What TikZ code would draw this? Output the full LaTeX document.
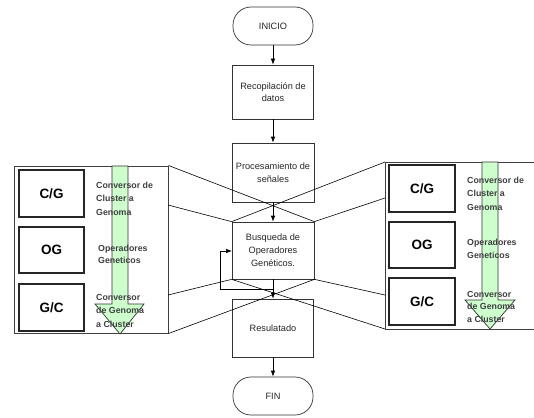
\documentclass[tikz,border=0pt]{standalone}
\usepackage{fontspec}
\setmainfont{Liberation Sans}
\usetikzlibrary{arrows.meta}
\definecolor{arrowgreen}{HTML}{CCFFCC}
\tikzset{
  flow/.style={draw=black!80, line width=0.7pt, fill=white, align=center, inner sep=1pt,
    font=\fontsize{9.2}{12.5}\selectfont, text=black!85},
  term/.style={flow, rounded corners=18pt, minimum width=80pt, minimum height=38pt},
  proc/.style={flow, minimum width=81pt},
  flowarrow/.style={draw=black, line width=0.7pt, -{Latex[length=6pt,width=4.5pt]}},
  panel/.style={draw=black!75, line width=1pt},
  code/.style={draw=black!85, line width=1.1pt, minimum width=65pt, inner sep=0pt,
    font=\fontsize{13.5}{14}\selectfont\bfseries},
  side/.style={anchor=base west, align=left, inner sep=0pt, text=black!75,
    font=\fontsize{8.8}{13.5}\selectfont\bfseries},
  zoomline/.style={draw=black, line width=0.6pt},
  greenarrow/.style={fill=arrowgreen, draw=black!80, line width=0.7pt},
}
\begin{document}
\begin{tikzpicture}[x=1pt,y=-1pt]
\useasboundingbox (0,0) rectangle (534,417);
\fill[white] (0,0) rectangle (534,417);

% ---- left panel ----
\node[panel, minimum width=154pt, minimum height=167pt, inner sep=0pt] (lpanel) at (91,249.5) {};
\draw[greenarrow] (112,166) -- (112,304) -- (95,304) -- (120,334) -- (144,304) -- (128,304) -- (128,166) -- cycle;
\node[code, minimum height=47pt] (lcg) at (51.5,193.5) {C/G};
\node[code, minimum height=46pt] (log) at (51.5,250) {OG};
\node[code, minimum height=47pt] (lgc) at (51.5,307.5) {G/C};
\node[side] (lt1) at (96,215) {Conversor de\\Cluster a\\Genoma};
\node[side, font=\fontsize{8.8}{12}\selectfont\bfseries] (lt2) at (98,263) {Operadores\\Geneticos};
\node[side, font=\fontsize{8.8}{13.5}\selectfont\bfseries] (lt3) at (96,327) {Conversor\\de Genoma\\a Cluster};
\coordinate (lmid1) at (168,205);
\coordinate (lmid2) at (168,295);

% ---- right panel ----
\draw[panel] (540,162) -- (385,162) -- (385,329) -- (540,329);
\coordinate (rtop) at (385,162);
\coordinate (rbot) at (385,329);
\draw[greenarrow] (482,162) -- (482,300) -- (465,300) -- (490,329) -- (515,300) -- (498,300) -- (498,162) -- cycle;
\node[code, minimum width=66pt, minimum height=47pt] (rcg) at (422,188.5) {C/G};
\node[code, minimum width=66pt, minimum height=46pt] (rog) at (422,245) {OG};
\node[code, minimum width=66pt, minimum height=47pt] (rgc) at (422,301.5) {G/C};
\node[side] (rt1) at (467,210) {Conversor de\\Cluster a\\Genoma};
\node[side, font=\fontsize{8.8}{13}\selectfont\bfseries] (rt2) at (467,258) {Operadores\\Geneticos};
\node[side, font=\fontsize{8.8}{12.5}\selectfont\bfseries] (rt3) at (467,322) {Conversor\\de Genoma\\a Cluster};
\coordinate (rmid1) at (385,198);
\coordinate (rmid2) at (385,295);

% ---- flowchart ----
\node[term] (inicio) at (273,26) {INICIO};
\node[proc, minimum height=54pt] (recop) at (273,92) {Recopilación de\\datos};
\node[proc, minimum width=82pt, minimum height=59pt] (proces) at (273,172.5) {Procesamiento de\\señales};
\node[proc, minimum width=82pt, minimum height=57pt, font=\fontsize{9.2}{13}\selectfont] (busq) at (273,250.5) {Busqueda de\\Operadores\\Genéticos.};
\node[proc, minimum height=58pt] (result) at (273,328) {Resulatado};
\node[term] (fin) at (273,396) {FIN};

\draw[flowarrow] (inicio) -- (recop);
\draw[flowarrow] (recop) -- (proces);
\draw[flowarrow] (proces) -- (busq);
\draw[flowarrow] (busq) -- (result);
\draw[flowarrow] (result) -- (fin);
\coordinate (loopstart) at (273,289);
\coordinate (loopin) at (232,251);
\draw[flowarrow] (loopstart) -- (220,289) -- (220,251) -- (loopin);

% ---- zoom lines ----
\draw[zoomline] (lpanel.north east) -- (busq.north east);
\draw[zoomline] (lmid1) -- (busq.north west);
\draw[zoomline] (lmid2) -- (busq.south west);
\draw[zoomline] (lpanel.south east) -- (busq.south east);
\draw[zoomline] (rtop) -- (busq.north west);
\draw[zoomline] (rmid1) -- (busq.north east);
\draw[zoomline] (rmid2) -- (busq.south east);
\draw[zoomline] (rbot) -- (busq.south west);
\end{tikzpicture}
\end{document}
